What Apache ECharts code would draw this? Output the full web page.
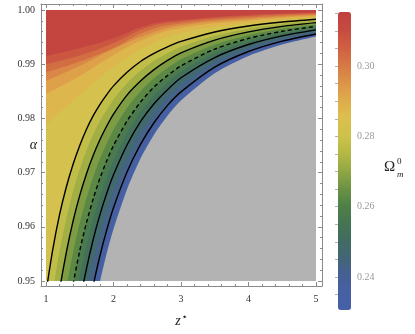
<!DOCTYPE html>
<html>
<head>
<meta charset="utf-8">
<script src="https://cdn.jsdelivr.net/npm/echarts@6/dist/echarts.min.js"></script>
<style>
html, body { margin: 0; padding: 0; background: #fff; }
#container1 { width: 415px; height: 334px; }
</style>
</head>
<body>
<div id="container1"></div>
<script>
// z* positions where the level curves were read
var zFine = [1.0, 1.1, 1.2, 1.3, 1.4, 1.5, 1.6, 1.7, 1.8, 1.9, 2.0, 2.2, 2.4, 2.6, 2.8, 3.0, 3.5, 4.0, 4.5, 5.0];
var zCoarse = [1.0, 1.5, 2.0, 2.5, 3.0, 4.0, 5.0];

// alpha of each Omega_m^0 level along z*
var a2306 = [0.8500, 0.8729, 0.8912, 0.9060, 0.9181, 0.9282, 0.9367, 0.9438, 0.9499, 0.9551, 0.9596, 0.9669, 0.9726, 0.9770, 0.9805, 0.9833, 0.98835, 0.99153, 0.99365, 0.99512];
var a235 = [0.8571, 0.8789, 0.8964, 0.9105, 0.9220, 0.9316, 0.9397, 0.9465, 0.9523, 0.9572, 0.9615, 0.9685, 0.9739, 0.9781, 0.9814, 0.9841, 0.9889, 0.99194, 0.99395, 0.99535];
var a240 = [0.8643, 0.8850, 0.9015, 0.9149, 0.9259, 0.9350, 0.9427, 0.9492, 0.9547, 0.9594, 0.9635, 0.9701, 0.9752, 0.9792, 0.9824, 0.9849, 0.98946, 0.99234, 0.99426, 0.99558];
var a245 = [0.8757, 0.8947, 0.9098, 0.9221, 0.9322, 0.9405, 0.9475, 0.9534, 0.9585, 0.9628, 0.9665, 0.9726, 0.9773, 0.9809, 0.9839, 0.9862, 0.99035, 0.99298, 0.99474, 0.99595];
var a250 = [0.8871, 0.9044, 0.9181, 0.9293, 0.9384, 0.9460, 0.9523, 0.9577, 0.9623, 0.9662, 0.9696, 0.9751, 0.9794, 0.9827, 0.9853, 0.9875, 0.99123, 0.99363, 0.99522, 0.99633];
var a255 = [0.8971, 0.9128, 0.9254, 0.9355, 0.9439, 0.9508, 0.9566, 0.9615, 0.9656, 0.9692, 0.9723, 0.9773, 0.9812, 0.9842, 0.9866, 0.9886, 0.99201, 0.99419, 0.99565, 0.99665];
var a260 = [0.9071, 0.9213, 0.9326, 0.9418, 0.9493, 0.9556, 0.9608, 0.9652, 0.9690, 0.9722, 0.9750, 0.9795, 0.9830, 0.9858, 0.9879, 0.9897, 0.99279, 0.99476, 0.99607, 0.99698];
var a265 = [0.9179, 0.9304, 0.9404, 0.9485, 0.9552, 0.9607, 0.9653, 0.9692, 0.9726, 0.9754, 0.9779, 0.9819, 0.9850, 0.9874, 0.9893, 0.9909, 0.99362, 0.99536, 0.99652, 0.99733];
var a270 = [0.9286, 0.9395, 0.9482, 0.9552, 0.9610, 0.9658, 0.9698, 0.9732, 0.9761, 0.9786, 0.9808, 0.9843, 0.9869, 0.9890, 0.9907, 0.9921, 0.99445, 0.99597, 0.99698, 0.99767];
var a275 = [0.9386, 0.9479, 0.9554, 0.9615, 0.9665, 0.9706, 0.9741, 0.9770, 0.9795, 0.9816, 0.9835, 0.9865, 0.9888, 0.9906, 0.9920, 0.9932, 0.99523, 0.99653, 0.99740, 0.99800];
var a280 = [0.9479, 0.9558, 0.9622, 0.9673, 0.9715, 0.9750, 0.9780, 0.9805, 0.9826, 0.9844, 0.9860, 0.9885, 0.9905, 0.9920, 0.9932, 0.9942, 0.99595, 0.99706, 0.99779, 0.99830];
var a285 = [0.9788, 0.9843, 0.9895, 0.99336, 0.99576, 0.99760, 0.99862];
var a290 = [0.9845, 0.9878, 0.9917, 0.99483, 0.99668, 0.99806, 0.99889];
var a295 = [0.9869, 0.9897, 0.9928, 0.99548, 0.99714, 0.99834, 0.99906];
var a300 = [0.9885, 0.9905, 0.9930, 0.99613, 0.99751, 0.99862, 0.99923];
var a305 = [0.9900, 0.9916, 0.9939, 0.99677, 0.99788, 0.99889, 0.99939];
var a310 = [0.9915, 0.9930, 0.9948, 0.99720, 0.99815, 0.99910, 0.99950];

var levels = [0.2306, 0.235, 0.24, 0.245, 0.25, 0.255, 0.26, 0.265, 0.27, 0.275, 0.28, 0.285, 0.29, 0.295, 0.30, 0.305, 0.31];
var levelCurves = [a2306, a235, a240, a245, a250, a255, a260, a265, a270, a275, a280, a285, a290, a295, a300, a305, a310];
var levelZ = [zFine, zFine, zFine, zFine, zFine, zFine, zFine, zFine, zFine, zFine, zFine, zCoarse, zCoarse, zCoarse, zCoarse, zCoarse, zCoarse];

// black contour lines (0.26 is the dashed one)
var contourSolid = [0.24, 0.25, 0.27, 0.28];
var contourDashed = [0.26];

var xTicks = [1, 2, 3, 4, 5];
var yTicks = [0.95, 0.96, 0.97, 0.98, 0.99, 1.00];
var barTicks = [0.24, 0.26, 0.28, 0.30];
var omegaMin = 0.2306, omegaMax = 0.3154;

var palette = ['#4660a8', '#4760a3', '#465f94', '#436676', '#416d61', '#467551', '#4f8146', '#6e9444', '#93a943',
               '#b6b945', '#d0c24c', '#dcbf4e', '#dfab4b', '#dc9348', '#d67845', '#ce5f41', '#c74a40', '#c0403f'];

var serif = 'Liberation Serif';
var frameColor = '#8a8a8a';

function hexToRgb(h) {
    return [parseInt(h.slice(1, 3), 16), parseInt(h.slice(3, 5), 16), parseInt(h.slice(5, 7), 16)];
}
function colorAt(v) {
    var t = (v - omegaMin) / (omegaMax - omegaMin) * (palette.length - 1);
    t = Math.max(0, Math.min(palette.length - 1, t));
    var i = Math.min(Math.floor(t), palette.length - 2), f = t - i;
    var a = hexToRgb(palette[i]), b = hexToRgb(palette[i + 1]);
    return 'rgb(' + [0, 1, 2].map(function (k) { return Math.round(a[k] + (b[k] - a[k]) * f); }).join(',') + ')';
}
function curveData(lv) {
    var i = levels.indexOf(lv);
    return levelZ[i].map(function (z, j) { return [z, levelCurves[i][j]]; });
}

// minor tick positions
var xMinor = [], yMinor = [], barMinor = [];
for (var k = 0; k <= 20; k++) xMinor.push(+(1 + k * 0.2).toFixed(2));
for (var k = 0; k <= 25; k++) yMinor.push(+(0.95 + k * 0.002).toFixed(3));
for (var k = 0; k <= 16; k++) barMinor.push(+(0.235 + k * 0.005).toFixed(3));

// frame is padded a few pixels around the data box (data box 270 x 271 px)
var pxX = 4 / 270, pxY = 0.05 / 271;
var fxMin = 1 - 5 * pxX, fxMax = 5 + 6 * pxX;
var fyMin = 0.95 - 5 * pxY, fyMax = 1 + 6 * pxY;

function frameAxis(extra) {
    var base = {
        type: 'value', gridIndex: 1, splitLine: { show: false },
        axisLine: { show: false, lineStyle: { color: frameColor, width: 1 } },
        axisTick: { show: true, inside: true, length: 2, lineStyle: { color: frameColor } },
        axisLabel: { show: false }
    };
    return echarts.util.merge(base, extra, true);
}

var dom = document.getElementById("container1");
var myChart = echarts.init(dom);
var option = null;

var series = levels.map(function (lv, i) {
    var next = i < levels.length - 1 ? levels[i + 1] : omegaMax;
    return {
        type: 'line', xAxisIndex: 4, yAxisIndex: 4,
        data: curveData(lv),
        symbol: 'none', smooth: levelZ[i] === zCoarse ? 0.45 : 0.25,
        lineStyle: { width: 0, opacity: 0 },
        areaStyle: { color: colorAt((lv + next) / 2), opacity: 1, origin: 'end' },
        silent: true, animation: false
    };
});
contourSolid.concat(contourDashed).forEach(function (lv) {
    series.push({
        type: 'line', xAxisIndex: 4, yAxisIndex: 4,
        data: curveData(lv),
        symbol: 'none', smooth: 0.25,
        lineStyle: { color: '#000', width: 1.4, type: contourDashed.indexOf(lv) >= 0 ? [4, 3] : 'solid' },
        silent: true, animation: false, z: 3
    });
});
// empty series that the colour bar belongs to
series.push({ type: 'scatter', xAxisIndex: 5, yAxisIndex: 5, data: [] });

option = {
    backgroundColor: '#fff',
    animation: false,
    grid: [
        { left: 46, top: 10, width: 270, height: 271, show: true, backgroundColor: '#b3b3b3', borderWidth: 0 },
        { left: 41, top: 4, width: 281, height: 282 },
        { left: 338, top: 12, width: 13, height: 298 }
    ],
    xAxis: [
        frameAxis({
            position: 'bottom', min: fxMin, max: fxMax,
            axisLine: { show: true },
            axisTick: { customValues: xTicks, length: 4 },
            axisLabel: { show: true, customValues: xTicks, margin: 8, color: '#333', fontFamily: serif, fontSize: 10 },
            name: '{z|z}{s|⋆}', nameLocation: 'middle', nameGap: 26, nameMoveOverlap: false,
            nameTextStyle: { rich: {
                z: { fontFamily: serif, fontStyle: 'italic', fontSize: 14, color: '#222' },
                s: { fontFamily: 'DejaVu Sans', fontSize: 10, color: '#222', padding: [0, 0, 9, 1] }
            } }
        }),
        frameAxis({ position: 'bottom', min: fxMin, max: fxMax, axisTick: { customValues: xMinor } }),
        frameAxis({ position: 'top', min: fxMin, max: fxMax, axisLine: { show: true }, axisTick: { customValues: xTicks, length: 4 } }),
        frameAxis({ position: 'top', min: fxMin, max: fxMax, axisTick: { customValues: xMinor } }),
        { type: 'value', gridIndex: 0, min: 1, max: 5, show: false },
        { type: 'value', gridIndex: 2, min: 0, max: 1, show: false }
    ],
    yAxis: [
        frameAxis({
            position: 'left', min: fyMin, max: fyMax,
            axisLine: { show: true },
            axisTick: { customValues: yTicks, length: 4 },
            axisLabel: { show: true, customValues: yTicks, margin: 6, color: '#333', fontFamily: serif, fontSize: 10,
                formatter: function (v) { return v.toFixed(2); } },
            name: 'α', nameLocation: 'middle', nameRotate: 0, nameGap: 4, nameMoveOverlap: false,
            nameTextStyle: { fontFamily: serif, fontStyle: 'italic', fontSize: 14, color: '#222' }
        }),
        frameAxis({ position: 'left', min: fyMin, max: fyMax, axisTick: { customValues: yMinor } }),
        frameAxis({ position: 'right', min: fyMin, max: fyMax, axisLine: { show: true }, axisTick: { customValues: yTicks, length: 4 } }),
        frameAxis({ position: 'right', min: fyMin, max: fyMax, axisTick: { customValues: yMinor } }),
        { type: 'value', gridIndex: 0, min: 0.95, max: 1.0, show: false },
        {
            type: 'value', gridIndex: 2, position: 'right', min: omegaMin, max: omegaMax,
            splitLine: { show: false }, axisLine: { show: false },
            axisTick: { show: true, inside: true, length: 3, customValues: barMinor, lineStyle: { color: '#b0b0b0' } },
            axisLabel: { customValues: barTicks, margin: 6, color: '#999', fontFamily: serif, fontSize: 10,
                formatter: function (v) { return v.toFixed(2); } }
        }
    ],
    visualMap: {
        type: 'continuous', min: omegaMin, max: omegaMax, calculable: false,
        seriesIndex: series.length - 1,
        left: 338, top: 12, itemWidth: 13, itemHeight: 298, padding: 0,
        inRange: { color: palette }
    },
    graphic: [
        { type: 'text', left: 384, top: 160, style: { text: 'Ω', font: '15px "Liberation Serif"', fill: '#222' } },
        { type: 'text', left: 397, top: 157, style: { text: '0', font: '9px "Liberation Serif"', fill: '#222' } },
        { type: 'text', left: 397, top: 170, style: { text: 'm', font: 'italic 9px "Liberation Serif"', fill: '#222' } }
    ],
    series: series
};

if (option && typeof option === "object") {
    myChart.setOption(option, true);
}
</script>
</body>
</html>
